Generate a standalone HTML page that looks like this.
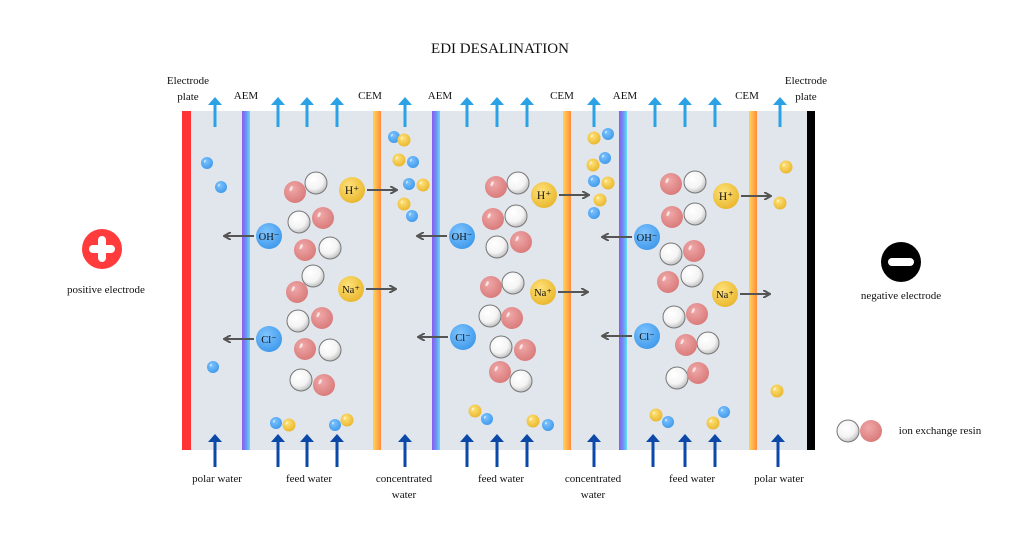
<!DOCTYPE html>
<html><head><meta charset="utf-8">
<style>
html,body{margin:0;padding:0;background:#fff;}
svg{display:block;font-family:"Liberation Serif",serif;}
</style></head>
<body>
<svg id="s" width="1024" height="539" viewBox="0 0 1024 539" xmlns="http://www.w3.org/2000/svg">
<defs>
<linearGradient id="aem" x1="0" x2="1" y1="0" y2="0"><stop offset="0" stop-color="#8a5cf0"/><stop offset="0.5" stop-color="#6f8ef5"/><stop offset="1" stop-color="#5fe0f0"/></linearGradient>
<linearGradient id="cem" x1="0" x2="1" y1="0" y2="0"><stop offset="0" stop-color="#ffd35a"/><stop offset="0.5" stop-color="#ffb24a"/><stop offset="1" stop-color="#ff8a3a"/></linearGradient>
<radialGradient id="gw" cx="0.4" cy="0.35" r="0.7"><stop offset="0" stop-color="#ffffff"/><stop offset="0.6" stop-color="#f4f4f4"/><stop offset="1" stop-color="#b8b8b8"/></radialGradient>
<radialGradient id="gp" cx="0.4" cy="0.35" r="0.7"><stop offset="0" stop-color="#f0a8a8"/><stop offset="1" stop-color="#d87878"/></radialGradient>
<radialGradient id="gb" cx="0.4" cy="0.35" r="0.7"><stop offset="0" stop-color="#7fc4ff"/><stop offset="1" stop-color="#3d98ea"/></radialGradient>
<radialGradient id="gy" cx="0.4" cy="0.35" r="0.7"><stop offset="0" stop-color="#ffe27a"/><stop offset="1" stop-color="#e8b52a"/></radialGradient>
<marker id="ah" markerWidth="8" markerHeight="8" refX="6" refY="4" orient="auto" markerUnits="userSpaceOnUse"><path d="M0,0 L7,4 L0,8" fill="none" stroke="#555" stroke-width="2"/></marker>
</defs>
<text x="500" y="53" text-anchor="middle" font-size="15" fill="#111">EDI DESALINATION</text>
<rect x="182" y="111" width="633" height="339" fill="#e1e6ec"/>
<rect x="182" y="111" width="9" height="339" fill="#ff3333"/>
<rect x="807" y="111" width="8" height="339" fill="#000"/>
<g id="g"></g>
</svg>
<script>
const membranes=[["aem",242],["cem",373],["aem",432],["cem",563],["aem",619],["cem",749]];
const topArrows=[215,278,307,337,405,467,497,527,594,655,685,715,780];
const bottomArrows=[215,278,307,337,405,467,497,527,594,653,685,715,778];
const resinWhite=[[316,183],[299,222],[330,248],[313,276],[298,321],[330,350],[301,380],[518,183],[516,216],[497,247],[513,283],[490,316],[501,347],[521,381],[695,182],[695,214],[671,254],[692,276],[674,317],[708,343],[677,378]];
const resinPink=[[295,192],[323,218],[305,250],[297,292],[322,318],[305,349],[324,385],[496,187],[493,219],[521,242],[491,287],[512,318],[525,350],[500,372],[671,184],[672,217],[694,251],[668,282],[697,314],[686,345],[698,373]];
const smallBlue=[[207,163],[221,187],[213,367],[276,423],[335,425],[394,137],[413,162],[409,184],[412,216],[487,419],[548,425],[608,134],[605,158],[594,181],[594,213],[668,422],[724,412]];
const smallYellow=[[289,425],[347,420],[404,140],[399,160],[423,185],[404,204],[475,411],[533,421],[594,138],[593,165],[608,183],[600,200],[656,415],[713,423],[786,167],[780,203],[777,391]];
const ions=[["H⁺",352,190,"y",1],["OH⁻",269,236,"b",-1],["Na⁺",351,289,"y",1],["Cl⁻",269,339,"b",-1],
["H⁺",544,195,"y",1],["OH⁻",462,236,"b",-1],["Na⁺",543,292,"y",1],["Cl⁻",463,337,"b",-1],
["H⁺",726,196,"y",1],["OH⁻",647,237,"b",-1],["Na⁺",725,294,"y",1],["Cl⁻",647,336,"b",-1]];
const topLabels=[["AEM",246],["CEM",370],["AEM",440],["CEM",562],["AEM",625],["CEM",747]];
const bottomLabels=[["polar water",217],["feed water",309],["concentrated|water",404],["feed water",501],["concentrated|water",593],["feed water",692],["polar water",779]];
const NS="http://www.w3.org/2000/svg";const G=document.getElementById("g");
function mk(t,a){const e=document.createElementNS(NS,t);for(const k in a)e.setAttribute(k,a[k]);G.appendChild(e);return e;}
membranes.forEach(m=>{const e=mk("rect",{x:m[1],y:111,width:8,height:339,fill:"url(#"+m[0]+")"});

});
function arrow(x,y1,y2,c,name){const l=mk("line",{x1:x,y1:y1,x2:x,y2:y2+6,stroke:c,"stroke-width":3});


const d=y2<y1?1:-1;const p=mk("polygon",{points:`${x-7},${y2+8*d} ${x+7},${y2+8*d} ${x},${y2}`,fill:c});

}
topArrows.forEach(x=>arrow(x,127,97,"#2ba1e6","outflow-arrow"));
bottomArrows.forEach(x=>arrow(x,467,434,"#0b48a8","inflow-arrow"));
function ball(x,y,r,f,st,name){const c=mk("circle",{cx:x,cy:y,r:r,fill:f,stroke:st,"stroke-width":1});


const h=mk("ellipse",{cx:x-r*0.35,cy:y-r*0.3,rx:r*0.12,ry:r*0.25,fill:"#fff",opacity:0.7,transform:`rotate(25 ${x-r*0.35} ${y-r*0.3})`});

}
resinWhite.forEach(p=>ball(p[0],p[1],11,"url(#gw)","#777","resin-white"));
resinPink.forEach(p=>ball(p[0],p[1],11,"url(#gp)","none","resin-pink"));
smallBlue.forEach(p=>ball(p[0],p[1],6,"url(#gb)","none","anion-small"));
smallYellow.forEach(p=>ball(p[0],p[1],6.5,"url(#gy)","none","cation-small"));
ions.forEach(o=>{const x=o[1],y=o[2],d=o[4];
const l=mk("line",{x1:x+d*15,y1:y,x2:x+d*44,y2:y,stroke:"#555","stroke-width":2,"marker-end":"url(#ah)"});


const c=mk("circle",{cx:x,cy:y,r:13,fill:o[3]=="y"?"url(#gy)":"url(#gb)"});


const t=mk("text",{x:x,y:y+4,"text-anchor":"middle","font-size":o[0].length>2?10.5:11.5,fill:"#111"});t.textContent=o[0];

});
function txt(s,x,y,fs,name){const t=mk("text",{x:x,y:y,"text-anchor":"middle","font-size":fs,fill:"#111"});t.textContent=s;

}
topLabels.forEach(l=>txt(l[0],l[1],99,11,'membrane-label'));
txt("Electrode",188,84,11,'electrode-plate-label');txt("plate",188,100,11,'electrode-plate-label');
txt("Electrode",806,84,11,'electrode-plate-label');txt("plate",806,100,11,'electrode-plate-label');
bottomLabels.forEach(l=>{const p=l[0].split("|");p.forEach((s,i)=>txt(s,l[1],482+i*16,11,'stream-label'));});
txt("positive electrode",106,293,11,'positive-electrode-label');
txt("negative electrode",901,299,11,'negative-electrode-label');
txt("ion exchange resin",940,434,11,'legend-label');
</script>
<div style="position:absolute;left:0;top:0;">
<svg width="1024" height="539" xmlns="http://www.w3.org/2000/svg">
<circle cx="102" cy="249" r="20" fill="#ff3b3b"/>
<rect x="89" y="245" width="26" height="8" rx="4" fill="#fff"/>
<rect x="98" y="236" width="8" height="26" rx="4" fill="#fff"/>
<circle cx="901" cy="262" r="20" fill="#000"/>
<rect x="888" y="258" width="26" height="8" rx="4" fill="#fff"/>
<circle cx="848" cy="431" r="11" fill="url(#gw)" stroke="#777"/>
<circle cx="871" cy="431" r="11" fill="url(#gp)"/>
</svg></div>
</body></html>
